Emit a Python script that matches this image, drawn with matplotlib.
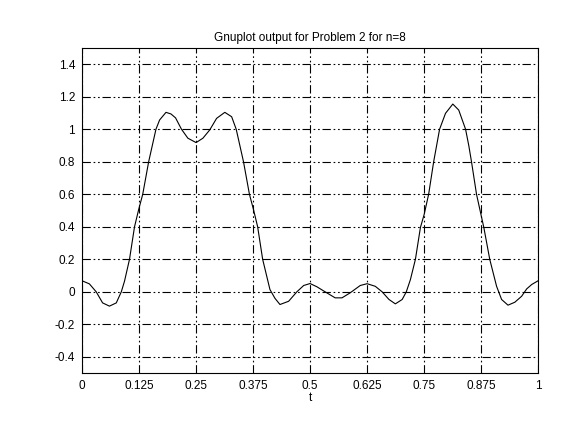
import matplotlib
matplotlib.use("Agg")
import matplotlib.pyplot as plt

# points (t, value)
t_vals = [0.000, 0.016, 0.031, 0.045, 0.060, 0.075, 0.086, 0.093, 0.104, 0.115,
          0.124, 0.133, 0.146, 0.162, 0.170, 0.184, 0.195, 0.205, 0.218, 0.232,
          0.250, 0.265, 0.280, 0.295, 0.313, 0.328, 0.338, 0.346, 0.354, 0.367,
          0.376, 0.385, 0.396, 0.412, 0.423, 0.434, 0.453, 0.471, 0.486, 0.500,
          0.515, 0.533, 0.555, 0.570, 0.588, 0.610, 0.625, 0.643, 0.658, 0.673,
          0.687, 0.702, 0.711, 0.720, 0.731, 0.742, 0.750, 0.760, 0.771, 0.784,
          0.797, 0.813, 0.826, 0.841, 0.848, 0.854, 0.865, 0.874, 0.881, 0.894,
          0.909, 0.920, 0.934, 0.949, 0.964, 0.975, 0.986, 1.000]
y_vals = [0.068, 0.049, 0.000, -0.068, -0.088, -0.068, 0.000, 0.065, 0.200, 0.400,
          0.505, 0.600, 0.800, 1.000, 1.057, 1.104, 1.094, 1.070, 1.000, 0.945,
          0.918, 0.945, 0.996, 1.067, 1.104, 1.077, 1.000, 0.900, 0.800, 0.600,
          0.505, 0.400, 0.200, 0.014, -0.040, -0.078, -0.058, 0.000, 0.039, 0.051,
          0.031, 0.000, -0.037, -0.037, -0.006, 0.039, 0.050, 0.034, 0.000, -0.047,
          -0.074, -0.047, 0.000, 0.075, 0.200, 0.396, 0.474, 0.600, 0.800, 1.000,
          1.098, 1.155, 1.118, 1.000, 0.900, 0.800, 0.600, 0.485, 0.396, 0.200,
          0.034, -0.047, -0.082, -0.064, -0.027, 0.018, 0.045, 0.068]

x_ticks = [0, 0.125, 0.25, 0.375, 0.5, 0.625, 0.75, 0.875, 1]
x_labels = ["0", "0.125", "0.25", "0.375", "0.5", "0.625", "0.75", "0.875", "1"]
y_ticks = [-0.4, -0.2, 0, 0.2, 0.4, 0.6, 0.8, 1, 1.2, 1.4]
y_labels = ["-0.4", "-0.2", "0", "0.2", "0.4", "0.6", "0.8", "1", "1.2", "1.4"]

plt.rcParams["font.family"] = ["Liberation Sans", "DejaVu Sans"]
plt.rcParams["lines.scale_dashes"] = False

fig = plt.figure(figsize=(5.7, 4.4), dpi=100)
ax = fig.add_axes([0.144, 0.152, 0.800, 0.739])

ax.plot(t_vals, y_vals, color="black", linewidth=0.8)

ax.set_xlim(0, 1)
ax.set_ylim(-0.5, 1.5)
ax.set_xticks(x_ticks)
ax.set_xticklabels(x_labels)
ax.set_yticks(y_ticks)
ax.set_yticklabels(y_labels)
ax.tick_params(direction="in", length=0, labelsize=8.5, pad=5)

ax.grid(True, color="black", linewidth=0.8, linestyle=(0, (6, 2, 1.2, 2, 1.2, 2)))
for s in ax.spines.values():
    s.set_linewidth(0.8)

ax.set_title("Gnuplot output for Problem 2 for n=8", fontsize=8.5, pad=5)
ax.set_xlabel("t", fontsize=8.5, labelpad=0)

fig.savefig("out.png", dpi=100)
